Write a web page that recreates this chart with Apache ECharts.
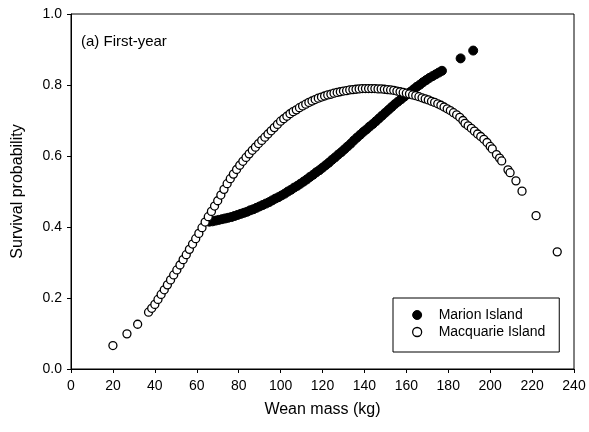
<!DOCTYPE html>
<html>
<head>
<meta charset="utf-8">
<script src="https://cdn.jsdelivr.net/npm/echarts@6/dist/echarts.min.js"></script>
<style>
html,body{margin:0;padding:0;background:#fff;}
#chart{width:589px;height:432px;}
</style>
</head>
<body>
<div id="chart"></div>
<script>
// Wean mass (kg) for each point
var marionX = [66,67.5,69,70.5,72,73.5,75,76.5,78,79.5,81,82.5,84,85.5,87,88.5,90,91.5,93,94.5,96,97.5,99,100.5,102,103.5,105,106.5,108,109.5,111,112.5,114,115.5,117,118.5,120,121.5,123,124.5,126,127.5,129,130.5,132,133.5,135,136.5,138,139.5,141,142.5,144,145.5,147,148.5,150,151.5,153,154.5,156,157.5,159,160.5,162,163.5,165,166.5,168,169.5,171,172.5,174,175.5,177,185.9,191.9];
// Survival probability, Marion Island
var marionY = [0.415,0.416,0.418,0.420,0.422,0.424,0.426,0.428,0.431,0.434,0.437,0.440,0.443,0.447,0.450,0.454,0.458,0.462,0.466,0.470,0.475,0.480,0.484,0.489,0.494,0.500,0.505,0.511,0.516,0.522,0.528,0.534,0.541,0.547,0.554,0.560,0.567,0.574,0.581,0.589,0.596,0.604,0.611,0.619,0.627,0.635,0.644,0.652,0.660,0.668,0.675,0.683,0.690,0.698,0.706,0.714,0.722,0.730,0.738,0.746,0.753,0.760,0.767,0.774,0.781,0.788,0.795,0.801,0.808,0.814,0.820,0.825,0.830,0.835,0.840,0.875,0.897];

var macquarieX = [20,26.7,31.8,37,38.5,40,41.5,43,44.5,46,47.5,49,50.5,52,53.5,55,56.5,58,59.5,61,62.5,64,65.5,67,68.5,70,71.5,73,74.5,76,77.5,79,80.5,82,83.5,85,86.5,88,89.5,91,92.5,94,95.5,97,98.5,100,101.5,103,104.5,106,107.5,109,110.5,112,113.5,115,116.5,118,119.5,121,122.5,124,125.5,127,128.5,130,131.5,133,134.5,136,137.5,139,140.5,142,143.5,145,146.5,148,149.5,151,152.5,154,155.5,157,158.5,160,161.5,163,164.5,166,167.5,169,170.5,172,173.5,175,176.5,178,179.5,181,182.5,184,185.5,187,188,189.5,191,192.5,194,195.5,197,198.5,200,201,203,204.5,205.5,208.5,209.5,212.3,215.2,221.9,232];
var macquarieY = [0.066,0.099,0.126,0.160,0.171,0.182,0.196,0.210,0.223,0.237,0.251,0.265,0.279,0.293,0.308,0.322,0.337,0.352,0.367,0.382,0.398,0.414,0.429,0.444,0.459,0.474,0.490,0.506,0.522,0.536,0.549,0.562,0.574,0.585,0.596,0.606,0.616,0.625,0.635,0.644,0.653,0.662,0.671,0.680,0.689,0.698,0.705,0.712,0.719,0.725,0.730,0.736,0.741,0.746,0.751,0.755,0.759,0.763,0.766,0.769,0.772,0.774,0.777,0.779,0.781,0.783,0.784,0.786,0.787,0.788,0.789,0.790,0.790,0.790,0.790,0.790,0.789,0.789,0.788,0.787,0.786,0.785,0.783,0.781,0.779,0.777,0.775,0.772,0.770,0.767,0.764,0.761,0.758,0.754,0.751,0.747,0.743,0.738,0.733,0.728,0.722,0.716,0.709,0.700,0.692,0.685,0.678,0.670,0.662,0.655,0.647,0.638,0.627,0.620,0.604,0.594,0.586,0.561,0.553,0.530,0.501,0.432,0.330];

var xTicks = [0,20,40,60,80,100,120,140,160,180,200,220,240];
var yTicks = [0.0,0.2,0.4,0.6,0.8,1.0];

function pairs(xs, ys){ return xs.map(function(x,i){ return [x, ys[i]]; }); }

var FONT = 'Liberation Sans, Arial, sans-serif';
var chart = echarts.init(document.getElementById('chart'), null, {renderer:'canvas'});
chart.setOption({
  backgroundColor:'#fff',
  animation:false,
  title:{
    text:'(a) First-year', left:81, top:34, padding:0,
    textStyle:{fontFamily:FONT, fontSize:15, fontWeight:'normal', color:'#000'}
  },
  legend:{
    orient:'vertical', left:393, top:298,
    borderColor:'#000', borderWidth:1,
    padding:[10,14,13,19], itemGap:3,
    itemWidth:9, itemHeight:9,
    textStyle:{fontFamily:FONT, fontSize:14, color:'#000', padding:[0,0,0,12]},
    data:[
      {name:'Marion Island', icon:'circle', itemStyle:{color:'#000', borderColor:'#000', borderWidth:1}},
      {name:'Macquarie Island', icon:'circle', itemStyle:{color:'#fff', borderColor:'#000', borderWidth:1.3}}
    ]
  },
  grid:{left:71, right:15, top:14, bottom:63, show:true, borderColor:'#000', borderWidth:1, backgroundColor:'transparent'},
  xAxis:{
    type:'value', min:xTicks[0], max:xTicks[xTicks.length-1], interval:20,
    name:'Wean mass (kg)', nameLocation:'middle', nameGap:33,
    nameTextStyle:{fontFamily:FONT, fontSize:16, color:'#000'},
    axisLine:{show:true, lineStyle:{color:'#000', width:1}},
    axisTick:{show:true, length:4, inside:false, lineStyle:{color:'#000'}},
    axisLabel:{fontFamily:FONT, fontSize:14, color:'#000', margin:10},
    splitLine:{show:false}
  },
  yAxis:{
    type:'value', min:yTicks[0], max:yTicks[yTicks.length-1], interval:0.2,
    name:'Survival probability', nameLocation:'middle', nameGap:45,
    nameTextStyle:{fontFamily:FONT, fontSize:16, color:'#000'},
    axisLine:{show:true, lineStyle:{color:'#000', width:1}},
    axisTick:{show:true, length:4, inside:false, lineStyle:{color:'#000'}},
    axisLabel:{fontFamily:FONT, fontSize:14, color:'#000', margin:9, formatter:function(v){return v.toFixed(1);}},
    splitLine:{show:false}
  },
  series:[
    {
      name:'Marion Island', type:'scatter', symbol:'circle', symbolSize:9,
      itemStyle:{color:'#000', borderColor:'#000', borderWidth:1, opacity:1},
      data:pairs(marionX, marionY), z:2
    },
    {
      name:'Macquarie Island', type:'scatter', symbol:'circle', symbolSize:8,
      itemStyle:{color:'#fff', borderColor:'#000', borderWidth:1.3, opacity:1},
      data:pairs(macquarieX, macquarieY), z:3
    }
  ]
});
</script>
</body>
</html>
